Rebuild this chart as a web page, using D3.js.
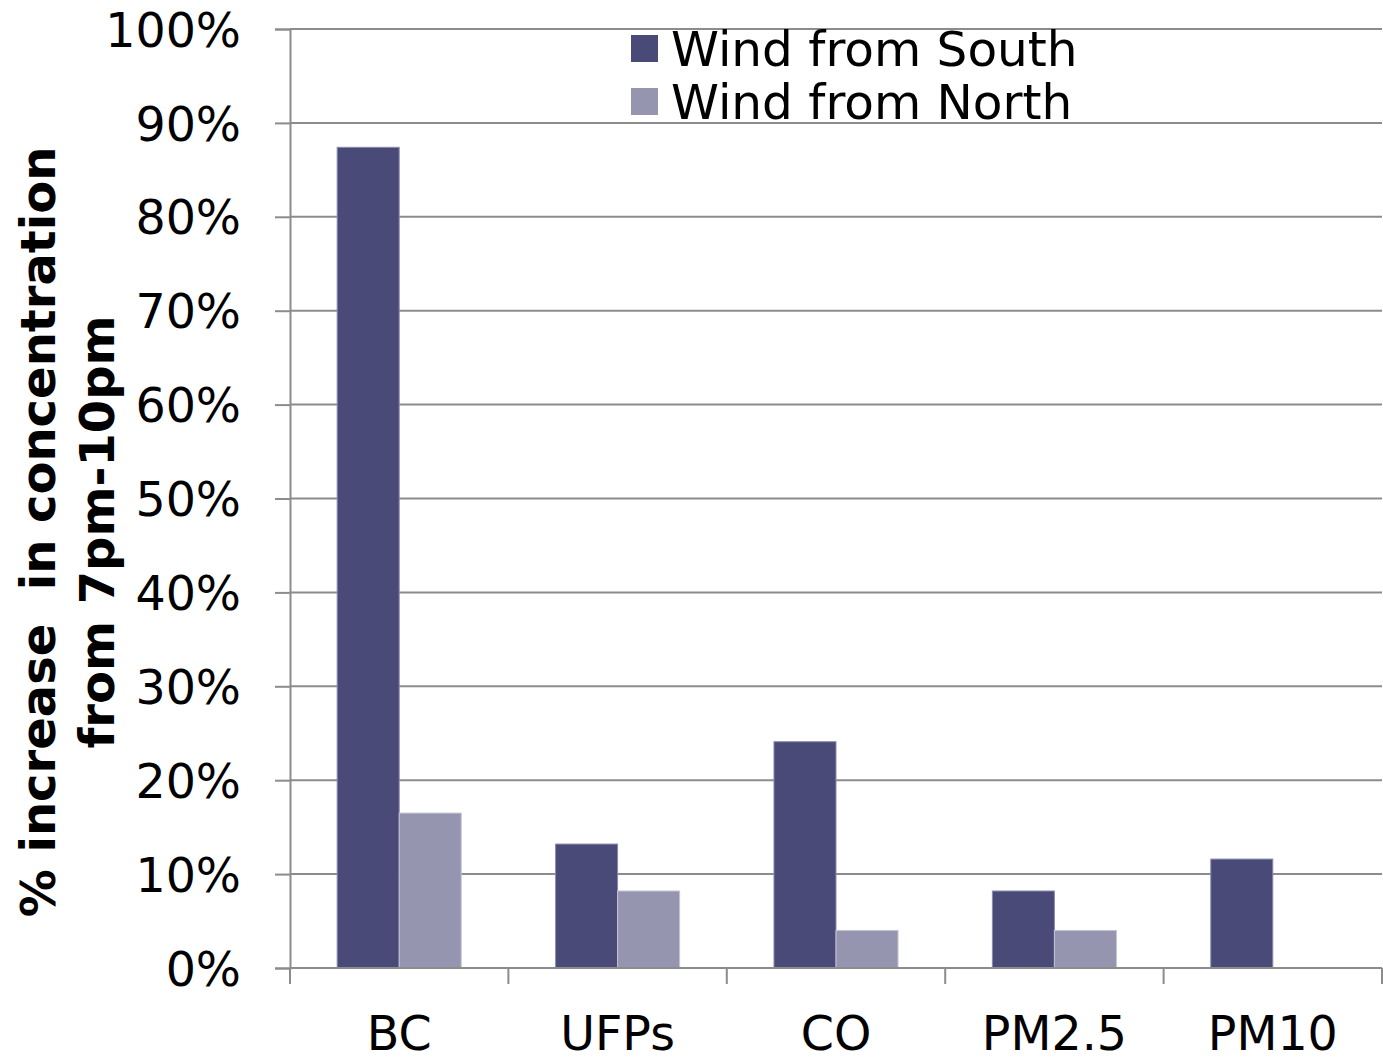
<!DOCTYPE html>
<html>
<head>
<meta charset="utf-8">
<script src="https://cdn.jsdelivr.net/npm/d3@7"></script>
<style>
  html, body { margin: 0; padding: 0; background: #fff; }
  svg { display: block; }
  text { font-family: "DejaVu Sans", Verdana, sans-serif; fill: #000; }
  .ytitle, .ytitle tspan { white-space: pre; }
</style>
</head>
<body>
<svg id="chart" width="1383" height="1060"></svg>
<script>
const categories = ["BC", "UFPs", "CO", "PM2.5", "PM10"];
const seriesNames = ["Wind from South", "Wind from North"];
const windSouth = [0.874, 0.132, 0.241, 0.082, 0.116];
const windNorth = [0.165, 0.082, 0.040, 0.040, 0];
const yTicks = [0, 0.1, 0.2, 0.3, 0.4, 0.5, 0.6, 0.7, 0.8, 0.9, 1.0];
const yTitleLines = ["% increase  in concentration", "from 7pm-10pm"];

const colors = ["#4a4a78", "#9595b0"];
const strokes = ["#8a8ab0", "#c4c4d8"];

const svg = d3.select("#chart");
const plotLeft = 290, plotRight = 1382, plotTop = 29, plotBottom = 968;

const x0 = d3.scaleBand().domain(categories).range([plotLeft, plotRight]).padding(0);
const groupW = x0.bandwidth() * 0.568;
const x1 = d3.scaleBand().domain(seriesNames)
  .range([(x0.bandwidth() - groupW) / 2, (x0.bandwidth() + groupW) / 2]).padding(0);
const y = d3.scaleLinear().domain([0, 1]).range([plotBottom, plotTop]);

// gridlines
svg.append("g").selectAll("line").data(yTicks.filter(d => d > 0)).join("line")
  .attr("x1", plotLeft).attr("x2", plotRight)
  .attr("y1", d => y(d)).attr("y2", d => y(d))
  .attr("stroke", "#8c8c8c").attr("stroke-width", 2);

// y axis
const yAxis = svg.append("g").attr("transform", `translate(${plotLeft},0)`)
  .call(d3.axisLeft(y).tickValues(yTicks).tickFormat(d3.format(".0%")).tickSize(15).tickPadding(34));
yAxis.select(".domain").attr("stroke", "#8c8c8c").attr("stroke-width", 2);
yAxis.selectAll(".tick line").attr("stroke", "#8c8c8c").attr("stroke-width", 2);
yAxis.selectAll(".tick text").attr("font-size", 47.5).attr("dy", "0.36em")
  .style("font-family", "'DejaVu Sans', Verdana, sans-serif").attr("fill", "#000");

// bars
const data = categories.map((c, i) => ({ cat: c, vals: [windSouth[i], windNorth[i]] }));
const groups = svg.append("g").selectAll("g").data(data).join("g")
  .attr("transform", d => `translate(${x0(d.cat)},0)`);
groups.selectAll("rect")
  .data(d => d.vals.map((v, j) => ({ s: seriesNames[j], j, v })).filter(e => e.v > 0))
  .join("rect")
  .attr("x", e => x1(e.s))
  .attr("width", x1.bandwidth())
  .attr("y", e => y(e.v))
  .attr("height", e => y(0) - y(e.v))
  .attr("fill", e => colors[e.j])
  .attr("stroke", e => strokes[e.j]).attr("stroke-width", 1);

// x axis
const xAxis = svg.append("g").attr("transform", `translate(0,${plotBottom})`)
  .call(d3.axisBottom(x0).tickSize(0).tickPadding(48));
xAxis.select(".domain").remove();
xAxis.append("line").attr("x1", plotLeft).attr("x2", plotRight).attr("y1", 0).attr("y2", 0)
  .attr("stroke", "#8c8c8c").attr("stroke-width", 2);
const bounds = categories.map(c => x0(c)).concat([plotRight]);
xAxis.selectAll(".bound").data(bounds).join("line").attr("class", "bound")
  .attr("x1", d => d).attr("x2", d => d).attr("y1", 0).attr("y2", 16)
  .attr("stroke", "#8c8c8c").attr("stroke-width", 2);
xAxis.selectAll(".tick text").attr("font-size", 47.5).attr("dy", "0.71em")
  .style("font-family", "'DejaVu Sans', Verdana, sans-serif").attr("fill", "#000");

// legend
const legend = svg.append("g").attr("transform", "translate(631,35)");
seriesNames.forEach((s, i) => {
  const g = legend.append("g").attr("transform", `translate(0,${i * 53})`);
  g.append("rect").attr("width", 27).attr("height", 27).attr("fill", colors[i]);
  g.append("text").attr("x", 40).attr("y", 31).attr("font-size", 48.5).text(s);
});

// y title
const yt = svg.append("text").attr("class", "ytitle")
  .attr("transform", "translate(0,532) rotate(-90)")
  .attr("text-anchor", "middle").attr("font-weight", "bold").attr("font-size", 48);
yTitleLines.forEach((t, i) => {
  yt.append("tspan").attr("x", 0).attr("y", 55 + i * 59).text(t);
});
</script>
</body>
</html>
